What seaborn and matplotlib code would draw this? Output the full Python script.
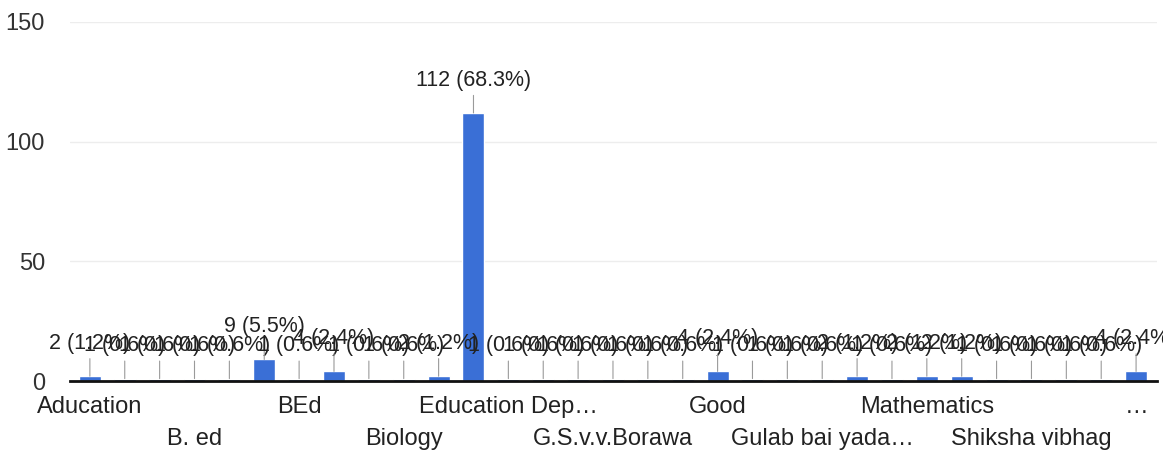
import numpy as np
import pandas as pd
import matplotlib
matplotlib.use("Agg")
import matplotlib.pyplot as plt
import seaborn as sns

# responses per answer (31 answers shown, sorted alphabetically like the form)
counts = [2, 1, 1, 1, 1, 9, 1, 4, 1, 1, 2, 112, 1, 1, 1, 1,
          1, 1, 4, 1, 1, 1, 2, 1, 2, 2, 1, 1, 1, 1, 4]
# only every third answer gets a label on the axis
tick_labels = ["Aducation", "B. ed", "BEd", "Biology", "Education Dep…",
               "G.S.v.v.Borawa", "Good", "Gulab bai yada…", "Mathematics",
               "Shiksha vibhag", "…"]
y_ticks = [0, 50, 100, 150]

total = sum(counts)
df = pd.DataFrame({"pos": np.arange(len(counts)), "count": counts})

sns.set_style("white")
plt.rcParams["font.family"] = ["Liberation Sans", "DejaVu Sans"]

fig = plt.figure(figsize=(11.63, 4.55), dpi=100)
ax = fig.add_axes([70 / 1163, (455 - 381) / 455, (1157 - 70) / 1163, (381 - 22) / 455])

sns.barplot(data=df, x="pos", y="count", color="#3a6fd6", width=0.63,
            saturation=1, ax=ax, zorder=3)

# labels with little leader lines above each bar
for i, v in enumerate(counts):
    ax.annotate(f"{v} ({v / total * 100:.1f}%)", xy=(i, v), xytext=(0, 16),
                textcoords="offset points", ha="center", va="bottom",
                fontsize=15.5, color="#222222",
                arrowprops=dict(arrowstyle="-", color="#9a9a9a", lw=0.8,
                                shrinkA=1, shrinkB=0))

# grid + axes
ax.set_ylim(0, 150)
ax.set_xlim(-0.57, 30.6)
ax.set_yticks(y_ticks)
ax.set_yticklabels([str(t) for t in y_ticks], fontsize=17, color="#333333")
for t in y_ticks[1:]:
    ax.axhline(t, color="#ededed", lw=1, zorder=0)
ax.tick_params(axis="y", length=0, pad=18)

ax.set_xticks(range(0, len(counts), 3))
ax.set_xticklabels(tick_labels, fontsize=17, color="#222222")
ax.tick_params(axis="x", length=0)
# alternate labels on two rows
for k, tk in enumerate(ax.xaxis.get_major_ticks()):
    tk.set_pad(11 if k % 2 == 0 else 34)

ax.set_xlabel("")
ax.set_ylabel("")
sns.despine(ax=ax, left=True)
ax.spines["bottom"].set_color("#111111")
ax.spines["bottom"].set_linewidth(2)
ax.spines["bottom"].set_zorder(4)

plt.savefig("out.png", dpi=100)
